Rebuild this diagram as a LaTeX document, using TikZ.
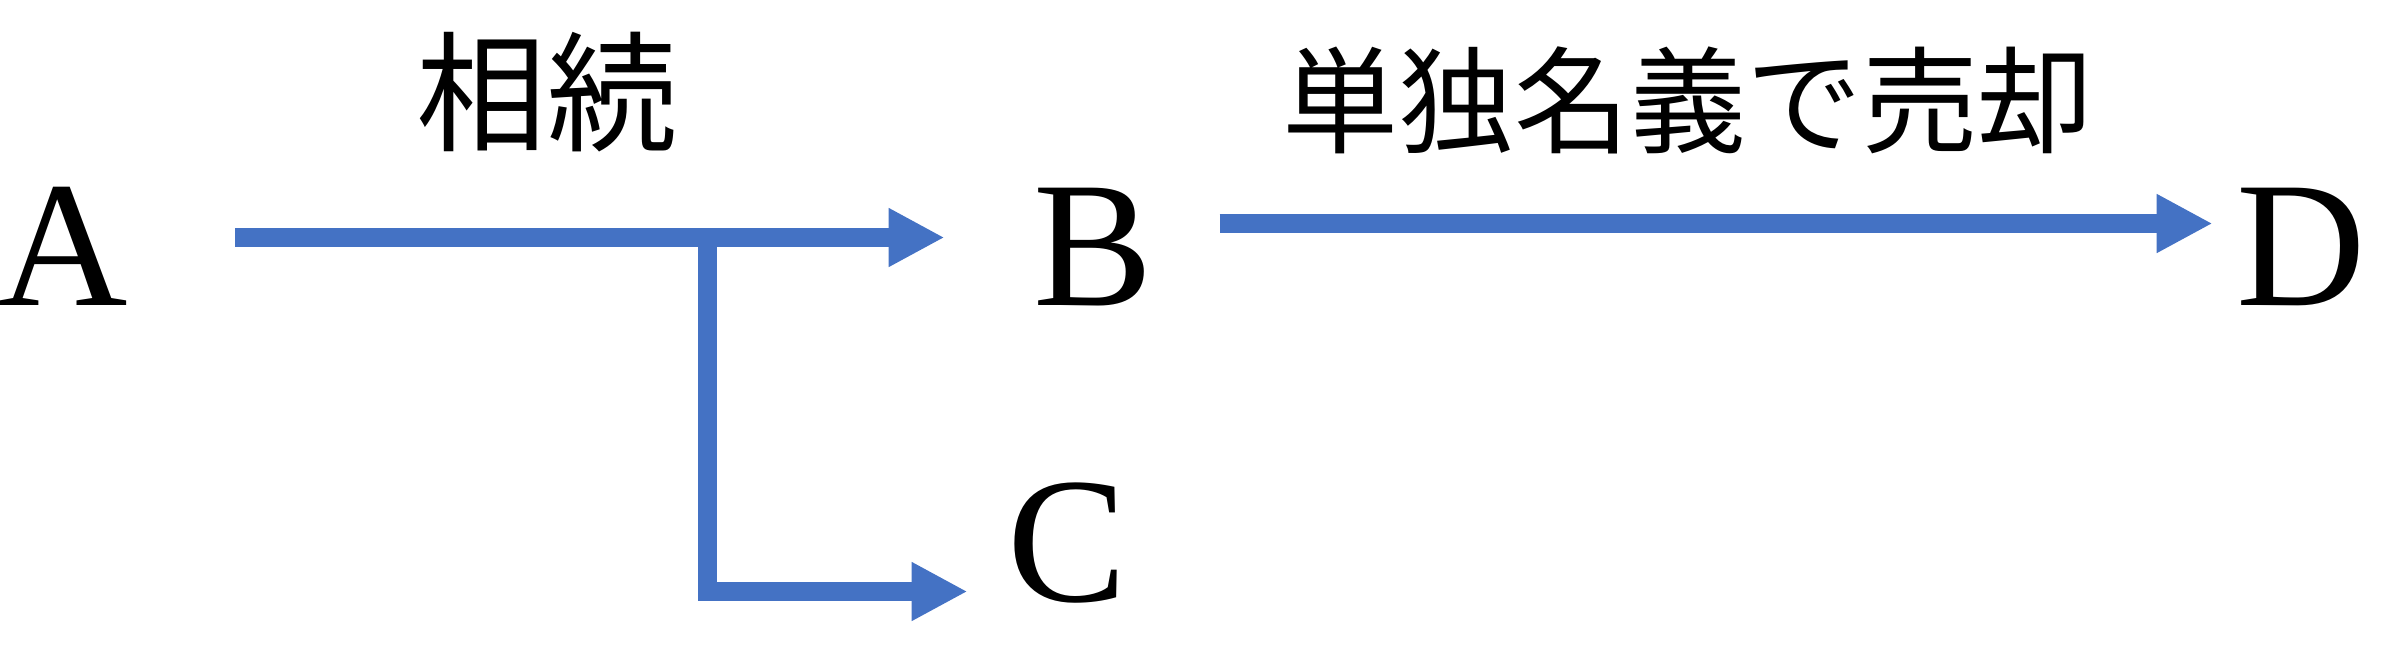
\documentclass[tikz,border=0pt]{standalone}
\usepackage{fontspec}
\setmainfont{Liberation Serif}
\newfontfamily\jpfont{Noto Sans CJK JP}
\usepackage{tikz}
\usetikzlibrary{arrows.meta,calc}

\definecolor{flowblue}{HTML}{4472C4}

\begin{document}
\begin{tikzpicture}[
    x=0.1mm, y=-0.1mm,
    letter/.style={inner sep=0pt, font=\fontsize{51}{60}\selectfont},
    jtext/.style={inner sep=0pt, font=\jpfont\fontsize{33}{40}\selectfont},
    flow/.style={draw=flowblue, line width=1.9mm,
                 -{Triangle[length=5.6mm, width=5.5mm]}}
  ]
    \useasboundingbox (0,0) rectangle (2395,646);

    % Parties
    \node[letter] (A) at (63,246) {A};
    \node[letter] (B) at (1093,247) {B};
    \node[letter] (C) at (1067,543) {C};
    \node[letter] (D) at (2301,247) {D};

    % Labels
    \node[jtext, font=\jpfont\fontsize{37}{44}\selectfont] (inherit) at (547,92) {相続};
    \node[jtext] (sale) at (1688,100) {単独名義で売却};

    % Branch point
    \coordinate (fork) at (707,237.5);

    % Arrows
    \draw[flow, shorten <=10.7mm, shorten >=8.8mm] (A.east |- fork) -- (B.west |- fork);
    \draw[flow] (fork) |- ($(C.west)+(-39,48.5)$);
    \draw[flow, shorten <=6.6mm, shorten >=2.3mm] ([yshift=2.35mm]B.east) -- ([yshift=2.35mm]D.west);
\end{tikzpicture}
\end{document}
